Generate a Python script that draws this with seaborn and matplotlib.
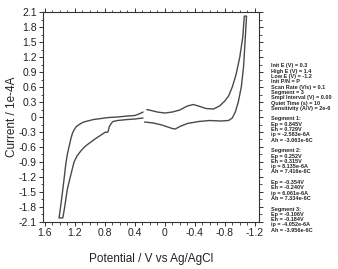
import matplotlib
matplotlib.use("Agg")
import matplotlib.pyplot as plt
import seaborn as sns
import numpy as np
from matplotlib.ticker import MultipleLocator

# left loop: scan from 0.3 V up to the high potential and back
left_v = [0.29, 0.33, 0.4, 0.5, 0.63, 0.75, 0.85, 0.95, 1.03, 1.08, 1.12, 1.15, 1.18,
          1.21, 1.23, 1.25, 1.27, 1.30, 1.32, 1.34, 1.36, 1.385, 1.41,
          1.36, 1.34, 1.32, 1.30, 1.27, 1.24, 1.21, 1.17, 1.12, 1.07, 1.03, 0.94,
          0.85, 0.79, 0.77, 0.755, 0.74, 0.71, 0.69, 0.63, 0.5, 0.4, 0.29]
left_i = [0.10, 0.07, 0.03, 0.02, 0.0, -0.01, -0.03, -0.05, -0.08, -0.1, -0.13, -0.16, -0.19,
          -0.26, -0.32, -0.42, -0.55, -0.75, -0.94, -1.2, -1.45, -1.75, -2.02,
          -2.02, -1.85, -1.65, -1.45, -1.26, -1.08, -0.9, -0.78, -0.68, -0.6, -0.55, -0.45,
          -0.36, -0.30, -0.31, -0.29, -0.19, -0.12, -0.09, -0.07, -0.05, -0.04, -0.02]

# right loop: 0.25 V down to the low potential and back
right_v = [0.27, 0.15, 0.04, -0.04, -0.1, -0.14, -0.2, -0.3, -0.45, -0.6, -0.75, -0.85,
           -0.9, -0.94, -0.98, -1.02, -1.05, -1.07, -1.09,
           -1.06, -1.04, -1.0, -0.95, -0.9, -0.85, -0.8, -0.73, -0.65, -0.55,
           -0.45, -0.38, -0.3, -0.2, -0.1, 0.0, 0.1, 0.18, 0.24]
right_i = [-0.10, -0.12, -0.16, -0.2, -0.23, -0.24, -0.19, -0.13, -0.09, -0.07, -0.08, -0.07,
           -0.02, 0.1, 0.3, 0.6, 1.0, 1.5, 2.02,
           2.02, 1.6, 1.2, 0.85, 0.6, 0.42, 0.32, 0.22, 0.16, 0.17,
           0.22, 0.25, 0.22, 0.14, 0.10, 0.08, 0.10, 0.13, 0.15]

info_lines = ["Init E (V) = 0.3", "High E (V) = 1.4", "Low E (V) = -1.2",
              "Init P/N = P", "Scan Rate (V/s) = 0.1", "Segment = 3",
              "Smpl Interval (V) = 0.00", "Quiet Time (s) = 10",
              "Sensitivity (A/V) = 2e-6"]
seg_blocks = [["Segment 1:", "Ep = 0.845V", "Eh = 0.729V", "ip = -2.583e-6A", "Ah = -3.063e-6C"],
              ["Segment 2:", "Ep = 0.252V", "Eh = 0.315V", "ip = 8.135e-6A", "Ah = 7.416e-6C"],
              ["Ep = -0.354V", "Eh = -0.240V", "ip = 6.061e-6A", "Ah = 7.334e-6C"],
              ["Segment 3:", "Ep = -0.106V", "Eh = -0.184V", "ip = -4.052e-6A", "Ah = -3.956e-6C"]]

sns.set_style("ticks")
plt.rcParams['font.family'] = ['Liberation Sans', 'DejaVu Sans']

fig = plt.figure(figsize=(3.38, 2.69), dpi=100)
ax = fig.add_axes([0.127, 0.175, 0.639, 0.78])

line_col = "#4a4a4a"
sns.lineplot(x=left_v, y=left_i, sort=False, estimator=None, ax=ax, color=line_col, lw=1.0)
sns.lineplot(x=right_v, y=right_i, sort=False, estimator=None, ax=ax, color=line_col, lw=1.0)

ax.set_xlim(1.625, -1.255)
ax.set_ylim(-2.1, 2.1)
ax.xaxis.set_minor_locator(MultipleLocator(0.1))
ax.yaxis.set_minor_locator(MultipleLocator(0.15))
ax.set_xticks(np.round(np.arange(1.6, -1.25, -0.4), 1))
ax.set_xticklabels(["1.6", "1.2", "0.8", "0.4", "0", "-0.4", "-0.8", "-1.2"])
yt = np.round(np.arange(-2.1, 2.11, 0.3), 1)
ax.set_yticks(yt)
ax.set_yticklabels(["0" if v == 0 else f"{v:.1f}" for v in yt])

for sp in ax.spines.values():
    sp.set_color("#333333")
    sp.set_linewidth(0.8)
ax.tick_params(axis="both", which="both", color="#333333", labelsize=7.5, pad=1.5,
               labelcolor="#222222", top=True, right=True)
ax.tick_params(which="major", length=3, width=0.7)
ax.tick_params(which="minor", length=1.8, width=0.6)

ax.set_xlabel("Potential / V vs Ag/AgCl", fontsize=8.5, color="#222222", labelpad=11)
ax.set_ylabel("Current / 1e-4A", fontsize=8.5, color="#222222", labelpad=0.5)

# instrument parameter panel on the right
y = 1 - 66 / 269
for t in info_lines:
    fig.text(0.802, y, t, fontsize=4.0, fontweight="bold", va="center", ha="left")
    y -= 5.3 / 269
y -= 5.3 / 269
for blk in seg_blocks:
    for t in blk:
        fig.text(0.802, y, t, fontsize=4.0, fontweight="bold", va="center", ha="left")
        y -= 5.3 / 269
    y -= 5.3 / 269

fig.savefig("out.png", dpi=100)
